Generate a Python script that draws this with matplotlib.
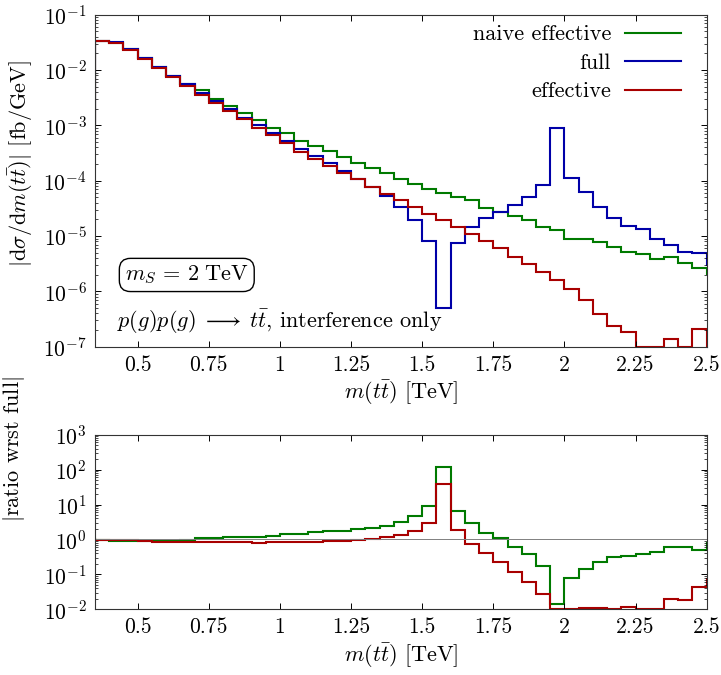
import numpy as np
import matplotlib.pyplot as plt

plt.rcParams['font.family'] = 'serif'
plt.rcParams['font.serif'] = ['cmr10', 'DejaVu Serif']
plt.rcParams['mathtext.fontset'] = 'cm'
plt.rcParams['axes.formatter.use_mathtext'] = True
plt.rcParams['font.size'] = 16
plt.rcParams['axes.unicode_minus'] = False

# bin edges in TeV (first and last bin sit outside the shown range)
edges = np.round(np.arange(0.30, 2.551, 0.05), 2)

# |dsigma/dm(tt)| [fb/GeV]
naive = [1.0e-3,
         3.3e-2, 3.13e-2, 2.4e-2, 1.62e-2, 1.14e-2, 7.9e-3, 5.6e-3, 4.3e-3, 3.0e-3, 2.2e-3,
         1.66e-3, 1.23e-3, 9.1e-4, 7.2e-4, 5.3e-4, 4.3e-4, 3.4e-4, 2.7e-4, 2.1e-4, 1.66e-4,
         1.35e-4, 1.05e-4, 8.6e-5, 7.2e-5, 6.0e-5, 5.0e-5, 4.4e-5, 3.2e-5, 2.75e-5, 2.3e-5,
         1.95e-5, 1.43e-5, 1.29e-5, 8.8e-6, 8.8e-6, 7.7e-6, 6.4e-6, 5.2e-6, 4.8e-6, 3.8e-6,
         4.1e-6, 3.3e-6, 2.6e-6,
         2.1e-6]
full = [1.0e-3,
        3.3e-2, 3.16e-2, 2.4e-2, 1.62e-2, 1.14e-2, 7.9e-3, 5.6e-3, 3.9e-3, 2.75e-3, 1.95e-3,
        1.38e-3, 1.02e-3, 7.4e-4, 5.3e-4, 3.8e-4, 2.8e-4, 2.05e-4, 1.51e-4, 1.05e-4, 7.6e-5,
        5.2e-5, 3.4e-5, 1.95e-5, 8.2e-6, 4.9e-7, 7.6e-6, 1.43e-5, 2.1e-5, 2.75e-5, 3.6e-5,
        5.1e-5, 8.5e-5, 9.1e-4, 1.1e-4, 6.2e-5, 3.3e-5, 2.1e-5, 1.53e-5, 1.32e-5, 8.8e-6,
        6.9e-6, 5.2e-6, 5.0e-6,
        3.0e-6]
effective = [1.0e-3,
             3.3e-2, 3.1e-2, 2.3e-2, 1.55e-2, 1.07e-2, 7.4e-3, 5.2e-3, 3.6e-3, 2.5e-3, 1.78e-3,
             1.29e-3, 9.1e-4, 6.6e-4, 4.7e-4, 3.3e-4, 2.5e-4, 1.86e-4, 1.39e-4, 1.05e-4, 7.8e-5,
             5.8e-5, 4.4e-5, 3.3e-5, 2.5e-5, 1.95e-5, 1.48e-5, 1.07e-5, 8.1e-6, 6.0e-6, 4.2e-6,
             3.1e-6, 2.2e-6, 1.58e-6, 1.1e-6, 6.9e-7, 3.9e-7, 2.4e-7, 1.86e-7, 1.0e-7, 1.0e-7,
             1.38e-7, 1.0e-7, 2.1e-7,
             1.0e-7]

# |ratio wrst full|
ratio_naive = [1.0,
               0.95, 0.92, 0.92, 0.92, 0.92, 0.93, 0.95, 1.07, 1.07, 1.15,
               1.2, 1.2, 1.28, 1.4, 1.4, 1.66, 1.74, 1.74, 1.95, 2.2,
               2.45, 3.2, 4.7, 9.1, 121, 6.5, 3.0, 1.56, 1.07, 0.62,
               0.38, 0.173, 0.0141, 0.0766, 0.139, 0.22, 0.306, 0.334, 0.38, 0.427,
               0.59, 0.62, 0.50,
               0.8]
ratio_eff = [1.0,
             0.95, 0.95, 0.95, 0.93, 0.87, 0.87, 0.87, 0.87, 0.87, 0.87,
             0.87, 0.78, 0.86, 0.86, 0.86, 0.86, 0.9, 0.9, 0.96, 1.02,
             1.15, 1.34, 1.74, 3.0, 38, 1.86, 0.74, 0.40, 0.22, 0.119,
             0.062, 0.027, 0.01, 0.01, 0.011, 0.011, 0.0105, 0.0117, 0.01, 0.01,
             0.0195, 0.019, 0.043,
             0.072]

green = '#007a00'
blue = '#0000a8'
red = '#a80000'
lw = 1.5

fig = plt.figure(figsize=(7.21, 6.75), dpi=100)
ax1 = fig.add_axes([0.1318, 0.4864, 0.8484, 0.4919])
ax2 = fig.add_axes([0.1318, 0.0973, 0.8484, 0.2587])

ax1.stairs(naive, edges, baseline=None, color=green, lw=lw, label='naive effective')
ax1.stairs(full, edges, baseline=None, color=blue, lw=lw, label='full')
ax1.stairs(effective, edges, baseline=None, color=red, lw=lw, label='effective')

ax2.axhline(1, color='#808080', lw=0.7)
ax2.stairs(ratio_naive, edges, baseline=None, color=green, lw=lw)
ax2.stairs(ratio_eff, edges, baseline=None, color=red, lw=lw)

xt = [0.5, 0.75, 1, 1.25, 1.5, 1.75, 2, 2.25, 2.5]
for ax in (ax1, ax2):
    ax.set_yscale('log')
    ax.set_xlim(0.35, 2.5)
    ax.set_xticks(xt)
    ax.set_xticklabels(['%g' % v for v in xt])
    ax.tick_params(which='both', direction='in', top=True, right=True, labelsize=15.5, pad=6)
    ax.tick_params(which='major', length=4.5, width=0.7)
    ax.tick_params(which='minor', length=2.5, width=0.5)
    for s in ax.spines.values():
        s.set_linewidth(0.8)
        s.set_color('#333333')
    ax.set_xlabel(r'$m(t\bar{t})$ [TeV]', fontsize=16)

ax1.set_ylim(1e-7, 1e-1)
ax1.set_yticks([1e-7, 1e-6, 1e-5, 1e-4, 1e-3, 1e-2, 1e-1])
ax1.set_ylabel(r'$|\mathrm{d}\sigma/\mathrm{d}m(t\bar{t})|$ [fb/GeV]', fontsize=16)
ax1.yaxis.set_label_coords(-0.098, 0.55)
ax1.xaxis.labelpad = 3

ax2.set_ylim(1e-2, 1e3)
ax2.set_yticks([1e-2, 1e-1, 1, 1e1, 1e2, 1e3])
ax2.set_ylabel(r'$|$ratio wrst full$|$', fontsize=16)
ax2.yaxis.set_label_coords(-0.112, 0.92)
ax2.xaxis.labelpad = 3

ax1.legend(loc='upper right', bbox_to_anchor=(0.958, 0.969), frameon=False,
           markerfirst=False, handlelength=2.5, handletextpad=0.65,
           labelspacing=0.4, borderpad=0, borderaxespad=0, fontsize=16)

ax1.text(0.150, 0.216, r'$m_S\,=\,2\ \mathrm{TeV}$', transform=ax1.transAxes,
         ha='center', va='center', fontsize=16,
         bbox=dict(boxstyle='round,pad=0.25,rounding_size=0.5', fc='white', ec='black', lw=1.0))
ax1.text(0.036, 0.074, r'$p(g)p(g)\;\longrightarrow\;t\bar{t}$, interference only',
         transform=ax1.transAxes, ha='left', va='center', fontsize=16)

fig.savefig('out.png', dpi=100)
